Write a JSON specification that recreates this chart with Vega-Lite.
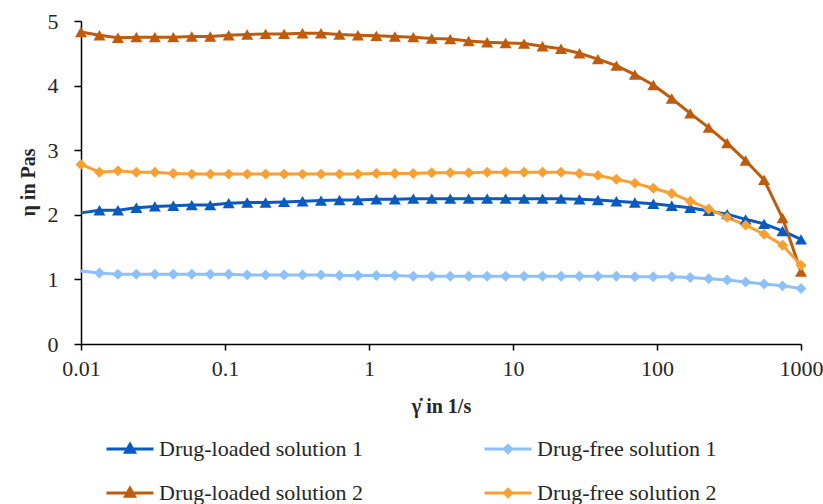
{
  "$schema": "https://vega.github.io/schema/vega-lite/v6.json",
  "width": 720,
  "height": 323,
  "autosize": {"type": "none"},
  "padding": {"left": 81, "top": 21, "right": 22, "bottom": 160},
  "background": "white",
  "config": {"view": {"stroke": null}, "font": "Liberation Serif"},
  "data": {"values": [
    {"rate": 0.01, "Drug-loaded solution 1": 2.03, "Drug-free solution 1": 1.13, "Drug-loaded solution 2": 4.83, "Drug-free solution 2": 2.78},
    {"rate": 0.01343, "Drug-loaded solution 1": 2.07, "Drug-free solution 1": 1.10, "Drug-loaded solution 2": 4.78, "Drug-free solution 2": 2.66},
    {"rate": 0.01805, "Drug-loaded solution 1": 2.07, "Drug-free solution 1": 1.08, "Drug-loaded solution 2": 4.74, "Drug-free solution 2": 2.68},
    {"rate": 0.02424, "Drug-loaded solution 1": 2.11, "Drug-free solution 1": 1.08, "Drug-loaded solution 2": 4.75, "Drug-free solution 2": 2.66},
    {"rate": 0.03257, "Drug-loaded solution 1": 2.13, "Drug-free solution 1": 1.08, "Drug-loaded solution 2": 4.75, "Drug-free solution 2": 2.66},
    {"rate": 0.04376, "Drug-loaded solution 1": 2.14, "Drug-free solution 1": 1.08, "Drug-loaded solution 2": 4.75, "Drug-free solution 2": 2.64},
    {"rate": 0.05878, "Drug-loaded solution 1": 2.15, "Drug-free solution 1": 1.08, "Drug-loaded solution 2": 4.76, "Drug-free solution 2": 2.63},
    {"rate": 0.07897, "Drug-loaded solution 1": 2.15, "Drug-free solution 1": 1.08, "Drug-loaded solution 2": 4.76, "Drug-free solution 2": 2.63},
    {"rate": 0.1061, "Drug-loaded solution 1": 2.18, "Drug-free solution 1": 1.08, "Drug-loaded solution 2": 4.78, "Drug-free solution 2": 2.63},
    {"rate": 0.1425, "Drug-loaded solution 1": 2.19, "Drug-free solution 1": 1.07, "Drug-loaded solution 2": 4.79, "Drug-free solution 2": 2.63},
    {"rate": 0.1915, "Drug-loaded solution 1": 2.19, "Drug-free solution 1": 1.07, "Drug-loaded solution 2": 4.80, "Drug-free solution 2": 2.63},
    {"rate": 0.2572, "Drug-loaded solution 1": 2.20, "Drug-free solution 1": 1.07, "Drug-loaded solution 2": 4.80, "Drug-free solution 2": 2.63},
    {"rate": 0.3455, "Drug-loaded solution 1": 2.21, "Drug-free solution 1": 1.07, "Drug-loaded solution 2": 4.81, "Drug-free solution 2": 2.63},
    {"rate": 0.4642, "Drug-loaded solution 1": 2.22, "Drug-free solution 1": 1.07, "Drug-loaded solution 2": 4.81, "Drug-free solution 2": 2.63},
    {"rate": 0.6236, "Drug-loaded solution 1": 2.23, "Drug-free solution 1": 1.06, "Drug-loaded solution 2": 4.79, "Drug-free solution 2": 2.63},
    {"rate": 0.8377, "Drug-loaded solution 1": 2.23, "Drug-free solution 1": 1.06, "Drug-loaded solution 2": 4.78, "Drug-free solution 2": 2.63},
    {"rate": 1.125, "Drug-loaded solution 1": 2.24, "Drug-free solution 1": 1.06, "Drug-loaded solution 2": 4.77, "Drug-free solution 2": 2.64},
    {"rate": 1.512, "Drug-loaded solution 1": 2.24, "Drug-free solution 1": 1.06, "Drug-loaded solution 2": 4.76, "Drug-free solution 2": 2.64},
    {"rate": 2.031, "Drug-loaded solution 1": 2.25, "Drug-free solution 1": 1.05, "Drug-loaded solution 2": 4.75, "Drug-free solution 2": 2.64},
    {"rate": 2.728, "Drug-loaded solution 1": 2.25, "Drug-free solution 1": 1.05, "Drug-loaded solution 2": 4.73, "Drug-free solution 2": 2.65},
    {"rate": 3.665, "Drug-loaded solution 1": 2.25, "Drug-free solution 1": 1.05, "Drug-loaded solution 2": 4.72, "Drug-free solution 2": 2.65},
    {"rate": 4.924, "Drug-loaded solution 1": 2.25, "Drug-free solution 1": 1.05, "Drug-loaded solution 2": 4.69, "Drug-free solution 2": 2.65},
    {"rate": 6.615, "Drug-loaded solution 1": 2.25, "Drug-free solution 1": 1.05, "Drug-loaded solution 2": 4.67, "Drug-free solution 2": 2.66},
    {"rate": 8.886, "Drug-loaded solution 1": 2.25, "Drug-free solution 1": 1.05, "Drug-loaded solution 2": 4.66, "Drug-free solution 2": 2.66},
    {"rate": 11.94, "Drug-loaded solution 1": 2.25, "Drug-free solution 1": 1.05, "Drug-loaded solution 2": 4.65, "Drug-free solution 2": 2.66},
    {"rate": 16.04, "Drug-loaded solution 1": 2.25, "Drug-free solution 1": 1.05, "Drug-loaded solution 2": 4.61, "Drug-free solution 2": 2.66},
    {"rate": 21.54, "Drug-loaded solution 1": 2.25, "Drug-free solution 1": 1.05, "Drug-loaded solution 2": 4.57, "Drug-free solution 2": 2.66},
    {"rate": 28.94, "Drug-loaded solution 1": 2.24, "Drug-free solution 1": 1.05, "Drug-loaded solution 2": 4.50, "Drug-free solution 2": 2.64},
    {"rate": 38.88, "Drug-loaded solution 1": 2.23, "Drug-free solution 1": 1.05, "Drug-loaded solution 2": 4.41, "Drug-free solution 2": 2.61},
    {"rate": 52.23, "Drug-loaded solution 1": 2.21, "Drug-free solution 1": 1.05, "Drug-loaded solution 2": 4.31, "Drug-free solution 2": 2.55},
    {"rate": 70.17, "Drug-loaded solution 1": 2.19, "Drug-free solution 1": 1.04, "Drug-loaded solution 2": 4.17, "Drug-free solution 2": 2.49},
    {"rate": 94.27, "Drug-loaded solution 1": 2.17, "Drug-free solution 1": 1.04, "Drug-loaded solution 2": 4.01, "Drug-free solution 2": 2.41},
    {"rate": 126.6, "Drug-loaded solution 1": 2.14, "Drug-free solution 1": 1.04, "Drug-loaded solution 2": 3.80, "Drug-free solution 2": 2.33},
    {"rate": 170.1, "Drug-loaded solution 1": 2.11, "Drug-free solution 1": 1.03, "Drug-loaded solution 2": 3.57, "Drug-free solution 2": 2.21},
    {"rate": 228.6, "Drug-loaded solution 1": 2.06, "Drug-free solution 1": 1.01, "Drug-loaded solution 2": 3.35, "Drug-free solution 2": 2.09},
    {"rate": 307.0, "Drug-loaded solution 1": 2.01, "Drug-free solution 1": 0.99, "Drug-loaded solution 2": 3.11, "Drug-free solution 2": 1.96},
    {"rate": 412.5, "Drug-loaded solution 1": 1.93, "Drug-free solution 1": 0.96, "Drug-loaded solution 2": 2.84, "Drug-free solution 2": 1.84},
    {"rate": 554.1, "Drug-loaded solution 1": 1.86, "Drug-free solution 1": 0.93, "Drug-loaded solution 2": 2.54, "Drug-free solution 2": 1.70},
    {"rate": 744.4, "Drug-loaded solution 1": 1.75, "Drug-free solution 1": 0.90, "Drug-loaded solution 2": 1.95, "Drug-free solution 2": 1.53},
    {"rate": 1000, "Drug-loaded solution 1": 1.62, "Drug-free solution 1": 0.86, "Drug-loaded solution 2": 1.12, "Drug-free solution 2": 1.22}
  ]},
  "transform": [
    {"fold": ["Drug-loaded solution 1", "Drug-free solution 1", "Drug-loaded solution 2", "Drug-free solution 2"], "as": ["series", "eta"]}
  ],
  "encoding": {
    "x": {
      "field": "rate", "type": "quantitative",
      "scale": {"type": "log", "domain": [0.01, 1000], "nice": false},
      "axis": {
        "title": "γ̇ in 1/s", "values": [0.01, 0.1, 1, 10, 100, 1000], "format": "~g",
        "grid": false, "labelFlush": false, "labelOverlap": false,
        "domainColor": "#000000", "domainWidth": 1.5, "tickColor": "#000000", "tickWidth": 1.5, "tickSize": 6,
        "labelFont": "Liberation Serif", "labelFontSize": 22, "labelColor": "#262626", "labelPadding": 8,
        "titleFont": "Liberation Serif", "titleFontSize": 20, "titleFontWeight": "bold", "titleColor": "#262626",
        "titleX": 360, "titleY": 62, "titleBaseline": "middle", "titleAlign": "center"
      }
    },
    "y": {
      "field": "eta", "type": "quantitative",
      "scale": {"domain": [0, 5], "nice": false},
      "axis": {
        "title": "η in Pas", "values": [0, 1, 2, 3, 4, 5], "format": "d",
        "grid": false, "labelOverlap": false,
        "domainColor": "#000000", "domainWidth": 1.5, "tickColor": "#000000", "tickWidth": 1.5, "tickSize": 7,
        "labelFont": "Liberation Serif", "labelFontSize": 22, "labelColor": "#262626", "labelPadding": 16,
        "titleFont": "Liberation Serif", "titleFontSize": 20, "titleFontWeight": "bold", "titleColor": "#262626",
        "titleX": -53, "titleY": 161, "titleBaseline": "middle", "titleAlign": "center", "titleAngle": -90
      }
    }
  },
  "layer": [
    {
      "mark": {"type": "line", "strokeWidth": 3, "strokeJoin": "round"},
      "encoding": {
        "color": {"field": "series", "type": "nominal",
          "scale": {"domain": ["Drug-loaded solution 1", "Drug-free solution 1", "Drug-loaded solution 2", "Drug-free solution 2"], "range": ["#0A5AC0", "#8EC0FA", "#C05A0C", "#F9A030"]},
          "legend": null}
      }
    },
    {
      "transform": [{"filter": "(datum.series == 'Drug-loaded solution 1' && datum.rate > 0.011) || datum.series == 'Drug-loaded solution 2'"}],
      "mark": {"type": "point", "filled": true, "opacity": 1, "shape": "triangle-up", "size": 144},
      "encoding": {
        "color": {"field": "series", "type": "nominal",
          "scale": {"domain": ["Drug-loaded solution 1", "Drug-free solution 1", "Drug-loaded solution 2", "Drug-free solution 2"], "range": ["#0A5AC0", "#8EC0FA", "#C05A0C", "#F9A030"]},
          "legend": null}
      }
    },
    {
      "transform": [{"filter": "(datum.series == 'Drug-free solution 1' && datum.rate > 0.011) || datum.series == 'Drug-free solution 2'"}],
      "mark": {"type": "point", "filled": true, "opacity": 1, "shape": "diamond", "size": 120},
      "encoding": {
        "color": {"field": "series", "type": "nominal",
          "scale": {"domain": ["Drug-loaded solution 1", "Drug-free solution 1", "Drug-loaded solution 2", "Drug-free solution 2"], "range": ["#0A5AC0", "#8EC0FA", "#C05A0C", "#F9A030"]},
          "legend": null}
      }
    },
    {
      "transform": [{"filter": "datum.rate < 0"}],
      "mark": {"type": "point", "filled": true, "opacity": 1, "size": 2209, "strokeWidth": 3},
      "encoding": {
        "color": {"field": "series", "type": "nominal",
          "scale": {"domain": ["Drug-loaded solution 1", "Drug-free solution 1", "Drug-loaded solution 2", "Drug-free solution 2"], "range": ["#0A5AC0", "#8EC0FA", "#C05A0C", "#F9A030"]},
          "legend": {"orient": "none", "legendX": 24, "legendY": 403, "direction": "horizontal", "columns": 2, "title": null, "labelFont": "Liberation Serif", "labelFontSize": 22, "labelColor": "#262626", "labelLimit": 0, "symbolSize": 2209, "symbolStrokeWidth": 3, "columnPadding": 114, "rowPadding": 8, "labelOffset": 4}},
        "stroke": {"field": "series", "type": "nominal",
          "scale": {"domain": ["Drug-loaded solution 1", "Drug-free solution 1", "Drug-loaded solution 2", "Drug-free solution 2"], "range": ["#0A5AC0", "#8EC0FA", "#C05A0C", "#F9A030"]},
          "legend": {"orient": "none", "legendX": 24, "legendY": 403, "direction": "horizontal", "columns": 2, "title": null, "labelFont": "Liberation Serif", "labelFontSize": 22, "labelColor": "#262626", "labelLimit": 0, "symbolSize": 2209, "symbolStrokeWidth": 3, "columnPadding": 114, "rowPadding": 8, "labelOffset": 4}},
        "shape": {"field": "series", "type": "nominal",
          "scale": {"domain": ["Drug-loaded solution 1", "Drug-free solution 1", "Drug-loaded solution 2", "Drug-free solution 2"], "range": ["M-1,0H1M0,-0.2L0.19,0.14L-0.19,0.14Z", "M-1,0H1M0,-0.15L0.15,0L0,0.15L-0.15,0Z", "M-1,0H1M0,-0.2L0.19,0.14L-0.19,0.14Z", "M-1,0H1M0,-0.15L0.15,0L0,0.15L-0.15,0Z"]},
          "legend": {"orient": "none", "legendX": 24, "legendY": 403, "direction": "horizontal", "columns": 2, "title": null, "labelFont": "Liberation Serif", "labelFontSize": 22, "labelColor": "#262626", "labelLimit": 0, "symbolSize": 2209, "symbolStrokeWidth": 3, "columnPadding": 114, "rowPadding": 8, "labelOffset": 4}}
      }
    }
  ],
  "resolve": {"scale": {"color": "independent", "shape": "independent", "stroke": "independent"}}
}
